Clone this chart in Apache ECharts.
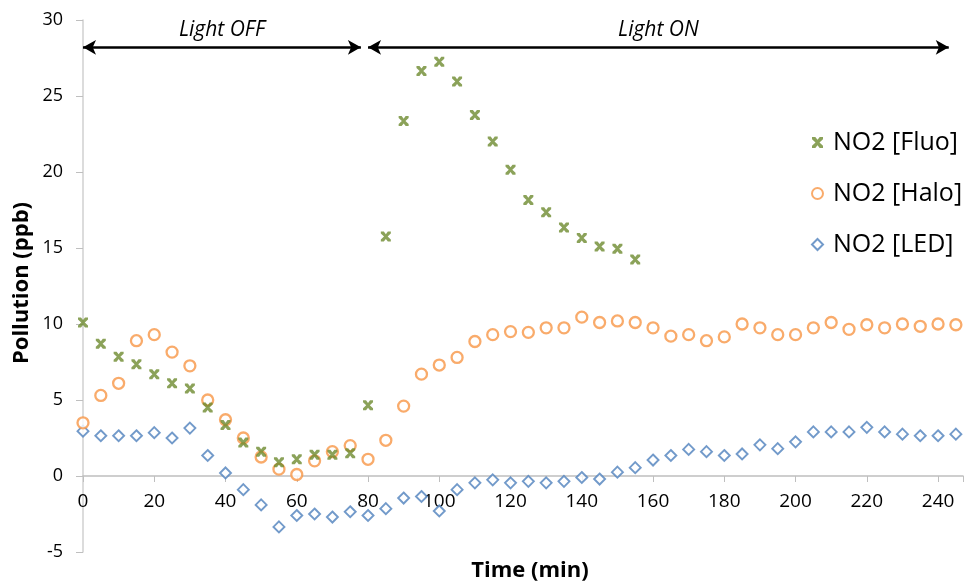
<!DOCTYPE html>
<html lang="en">
<head>
    <meta charset="UTF-8">
    <title>NO2 pollution</title>
    <script src="https://cdn.jsdelivr.net/npm/echarts@6/dist/echarts.min.js"></script>
    <style>
        html, body { margin: 0; padding: 0; background: #fff; }
        #chart { width: 966px; height: 582px; }
    </style>
</head>
<body>
<div id="chart"></div>
<script>
    // time in minutes
    var timeFluo = [0, 5, 10, 15, 20, 25, 30, 35, 40, 45, 50, 55, 60, 65, 70, 75, 80,
        85, 90, 95, 100, 105, 110, 115, 120, 125, 130, 135, 140, 145, 150, 155];
    var timeAll = [0, 5, 10, 15, 20, 25, 30, 35, 40, 45, 50, 55, 60, 65, 70, 75, 80,
        85, 90, 95, 100, 105, 110, 115, 120, 125, 130, 135, 140, 145, 150, 155, 160,
        165, 170, 175, 180, 185, 190, 195, 200, 205, 210, 215, 220, 225, 230, 235, 240, 245];

    var no2Fluo = [10.1, 8.7, 7.85, 7.35, 6.7, 6.1, 5.75, 4.5, 3.35, 2.2, 1.6, 0.9, 1.1, 1.4, 1.4, 1.5, 4.65,
        15.75, 23.35, 26.65, 27.25, 25.95, 23.75, 22.0, 20.15, 18.15, 17.35, 16.35, 15.65, 15.1, 14.95, 14.25];
    var no2Halo = [3.5, 5.3, 6.1, 8.9, 9.3, 8.15, 7.25, 5.0, 3.7, 2.5, 1.25, 0.45, 0.1, 1.0, 1.6, 2.0, 1.1,
        2.35, 4.6, 6.7, 7.3, 7.8, 8.85, 9.3, 9.5, 9.45, 9.75, 9.75, 10.45, 10.1, 10.2, 10.1, 9.75,
        9.2, 9.3, 8.9, 9.15, 10.0, 9.75, 9.3, 9.3, 9.75, 10.1, 9.65, 9.95, 9.75, 10.0, 9.85, 10.0, 9.95];
    var no2Led = [2.95, 2.65, 2.65, 2.65, 2.85, 2.5, 3.15, 1.35, 0.2, -0.9, -1.9, -3.35, -2.6, -2.5, -2.7, -2.35, -2.6,
        -2.15, -1.45, -1.35, -2.3, -0.9, -0.45, -0.25, -0.45, -0.35, -0.45, -0.35, -0.1, -0.2, 0.25, 0.55, 1.05,
        1.35, 1.75, 1.6, 1.35, 1.45, 2.05, 1.8, 2.25, 2.9, 2.9, 2.9, 3.2, 2.9, 2.75, 2.65, 2.65, 2.75];

    // annotation periods: [label, start, end] at arrowY
    var periods = [['Light OFF', 0, 78], ['Light ON', 80, 243]];
    var arrowY = 28.2;

    var FONT = '"Open Sans", "Noto Sans", sans-serif';
    var xMark = 'path://M0,0 L3,0 L5,2.6 L7,0 L10,0 L10,2 L6.8,5 L10,8 L10,10 L7,10 L5,7.4 L3,10 L0,10 L0,8 L3.2,5 L0,2 Z';

    function pairs(xs, ys) {
        var out = [];
        for (var i = 0; i < ys.length; ++i) {
            out.push([xs[i], ys[i]]);
        }
        return out;
    }

    var markData = periods.map(function (p) {
        return [{name: p[0], coord: [p[1], arrowY]}, {coord: [p[2], arrowY]}];
    });

    var chart = echarts.init(document.getElementById('chart'));
    chart.setOption({
        animation: false,
        textStyle: {fontFamily: FONT},
        grid: {left: 83, right: 0, top: 20, bottom: 30, containLabel: false},
        legend: {
            orient: 'vertical',
            left: 806,
            top: 124,
            itemWidth: 11,
            itemHeight: 11,
            itemGap: 24,
            textStyle: {fontSize: 25, color: '#000', fontFamily: FONT, padding: [0, 0, 0, 5], lineHeight: 27},
            data: ['NO2 [Fluo]', 'NO2 [Halo]', 'NO2 [LED]']
        },
        xAxis: {
            type: 'value',
            min: 0,
            max: 247,
            interval: 20,
            offset: -76,
            axisLine: {onZero: false, lineStyle: {color: '#bfbfbf', width: 1.5}},
            axisTick: {show: true, length: 6, lineStyle: {color: '#bfbfbf'}},
            axisLabel: {
                fontSize: 19, color: '#000', margin: 16,
                formatter: function (v) { return v % 20 === 0 ? String(v) : ''; }
            },
            splitLine: {show: false}
        },
        yAxis: {
            type: 'value',
            min: -5,
            max: 30,
            interval: 5,
            axisLine: {show: true, onZero: false, lineStyle: {color: '#d0d0d0', width: 1.5}},
            axisTick: {show: true, length: 7, lineStyle: {color: '#bfbfbf'}},
            axisLabel: {fontSize: 18, color: '#000', margin: 20},
            splitLine: {show: false}
        },
        graphic: [
            {
                type: 'text', x: 22, y: 283, rotation: Math.PI / 2,
                style: {text: 'Pollution (ppb)', fontSize: 22, fontWeight: 'bold', fontFamily: FONT,
                    fill: '#000', align: 'center', verticalAlign: 'middle'}
            },
            {
                type: 'text', x: 530, y: 571,
                style: {text: 'Time (min)', fontSize: 22, fontWeight: 'bold', fontFamily: FONT,
                    fill: '#000', align: 'center', verticalAlign: 'middle'}
            }
        ],
        series: [
            {
                name: 'NO2 [Fluo]',
                type: 'scatter',
                symbol: xMark,
                symbolSize: 10,
                itemStyle: {color: '#6E8B30'},
                data: pairs(timeFluo, no2Fluo),
                markLine: {
                    silent: true,
                    animation: false,
                    symbol: ['arrow', 'arrow'],
                    symbolSize: [11, 13],
                    lineStyle: {color: '#000', width: 2.5, type: 'solid'},
                    label: {
                        show: true, position: 'insideMiddleTop', distance: 7,
                        formatter: '{b}', fontSize: 21, fontStyle: 'italic', color: '#000', fontFamily: FONT
                    },
                    data: markData
                },
                z: 3
            },
            {
                name: 'NO2 [Halo]',
                type: 'scatter',
                symbol: 'circle',
                symbolSize: 11,
                itemStyle: {color: '#fff', borderColor: '#F79646', borderWidth: 2.3},
                data: pairs(timeAll, no2Halo),
                z: 2
            },
            {
                name: 'NO2 [LED]',
                type: 'scatter',
                symbol: 'diamond',
                symbolSize: 11,
                itemStyle: {color: '#fff', borderColor: '#4F81BD', borderWidth: 1.9},
                data: pairs(timeAll, no2Led),
                z: 1
            }
        ]
    });
</script>
</body>
</html>
